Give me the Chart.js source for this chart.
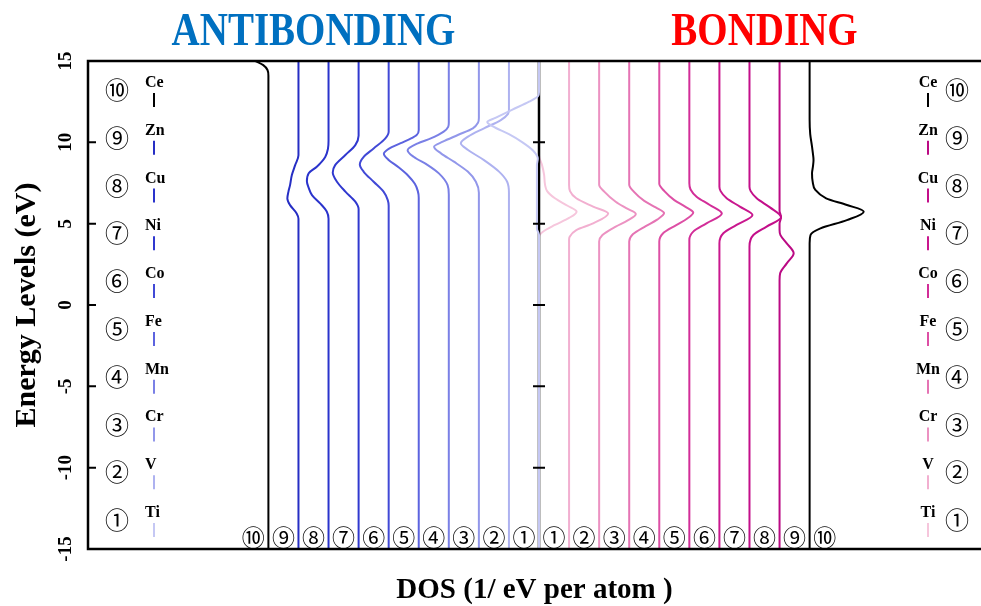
<!DOCTYPE html>
<html lang="en">
<head>
<meta charset="UTF-8" />
<title>DOS - antibonding / bonding</title>
<script src="https://cdn.jsdelivr.net/npm/chart.js"></script>
<style>
  html, body { margin: 0; padding: 0; background: #fff; overflow: hidden; }
  #grafico { display: block; }
</style>
</head>
<body>
<canvas id="grafico" width="981" height="606"></canvas>

<script>
  // elements, from Ti (1) to Ce (10)
  var elements = ["Ti", "V", "Cr", "Mn", "Fe", "Co", "Ni", "Cu", "Zn", "Ce"];
  var circled = ["①", "②", "③", "④", "⑤", "⑥", "⑦", "⑧", "⑨", "⑩"];
  // stacking offset of each curve (DOS units)
  var offsets = [0, 1, 2, 3, 4, 5, 6, 7, 8, 9];
  var energyTicks = [-15, -10, -5, 0, 5, 10, 15];

  // [energy (eV), DOS]  antibonding side (drawn to the left)
  var antiTi = [[-15, 0], [4.3, 0], [4.7, 0.07], [8.6, 0.07], [9.0, 0.04], [9.5, 0.2], [10.0, 0.55], [10.5, 1.0], [11.0, 1.55], [11.25, 1.72], [11.5, 1.45], [12.0, 0.9], [12.5, 0.33], [12.85, 0.03], [13.1, 0], [15, 0]];
  var antiV = [[-15, 0], [6.9, 0], [7.58, 0.06], [8.2, 0.33], [8.91, 0.83], [9.53, 1.36], [9.94, 1.6], [10.35, 1.36], [10.86, 0.83], [11.37, 0.27], [11.75, 0.03], [12.0, 0], [15, 0]];
  var antiCr = [[-15, 0], [6.9, 0], [7.58, 0.1], [8.2, 0.37], [8.81, 0.83], [9.32, 1.26], [9.73, 1.49], [10.04, 1.2], [10.45, 0.7], [10.86, 0.2], [11.2, 0.03], [11.5, 0], [15, 0]];
  var antiMn = [[-15, 0], [6.8, 0], [7.37, 0.04], [8.09, 0.33], [8.6, 0.7], [9.11, 1.17], [9.52, 1.37], [9.94, 1.03], [10.24, 0.6], [10.66, 0.17], [10.95, 0.02], [11.2, 0], [15, 0]];
  var antiFe = [[-15, 0], [6.6, 0], [7.0, 0.03], [7.45, 0.13], [7.95, 0.35], [8.45, 0.66], [8.95, 1.02], [9.3, 1.16], [9.6, 1.0], [9.95, 0.6], [10.2, 0.3], [10.45, 0.07], [10.75, 0], [15, 0]];
  var antiCo = [[-15, 0], [6.1, 0], [6.45, 0.03], [6.97, 0.17], [7.58, 0.5], [8.19, 0.83], [8.64, 0.96], [9.11, 0.83], [9.62, 0.5], [10.24, 0.11], [10.65, 0], [15, 0]];
  var antiNi = [[-15, 0], [5.9, 0], [6.35, 0.11], [6.97, 0.44], [7.58, 0.72], [8.15, 0.86], [8.6, 0.78], [9.22, 0.44], [9.83, 0.11], [10.4, 0], [15, 0]];
  var antiCu = [[-15, 0], [5.3, 0], [5.75, 0.06], [6.25, 0.28], [6.75, 0.55], [7.2, 0.66], [7.6, 0.72], [8.1, 0.66], [8.5, 0.39], [9.1, 0.11], [9.6, 0.02], [10.1, 0], [15, 0]];
  var antiZn = [[-15, 0], [5.3, 0], [5.63, 0.06], [6.14, 0.28], [6.55, 0.37], [7.0, 0.33], [7.37, 0.28], [7.99, 0.22], [8.6, 0.11], [9.2, 0], [15, 0]];
  var antiCe = [[-15, 0], [14.1, 0], [14.45, 0.03], [14.75, 0.17], [15, 0.43]];

  // bonding side (drawn to the right)
  var bondTi = [[-15, 0], [4.2, 0], [4.5, 0.13], [4.92, 0.53], [5.35, 1.0], [5.74, 1.25], [6.1, 0.95], [6.56, 0.53], [7.0, 0.27], [7.4, 0.2], [8.0, 0.17], [8.6, 0.1], [9.2, 0], [15, 0]];
  var bondV = [[-15, 0], [4.0, 0], [4.2, 0.02], [4.61, 0.24], [5.02, 0.8], [5.63, 1.3], [6.05, 0.8], [6.56, 0.24], [7.0, 0.03], [7.37, 0], [15, 0]];
  var bondCr = [[-15, 0], [3.9, 0], [4.3, 0.11], [4.82, 0.55], [5.2, 0.95], [5.6, 1.22], [5.95, 0.9], [6.35, 0.55], [6.97, 0.17], [7.4, 0], [15, 0]];
  var bondMn = [[-15, 0], [3.9, 0], [4.35, 0.12], [4.85, 0.55], [5.25, 0.93], [5.65, 1.16], [6.0, 0.88], [6.4, 0.5], [6.95, 0.16], [7.4, 0], [15, 0]];
  var bondFe = [[-15, 0], [3.9, 0], [4.4, 0.12], [4.9, 0.55], [5.3, 0.92], [5.68, 1.13], [6.05, 0.86], [6.45, 0.5], [7.0, 0.17], [7.45, 0], [15, 0]];
  var bondCo = [[-15, 0], [4.0, 0], [4.51, 0.13], [5.02, 0.57], [5.63, 1.08], [6.15, 0.68], [6.66, 0.24], [7.1, 0.04], [7.48, 0], [15, 0]];
  var bondNi = [[-15, 0], [3.8, 0], [4.41, 0.13], [4.92, 0.57], [5.53, 1.1], [6.05, 0.68], [6.56, 0.24], [7.0, 0.04], [7.27, 0], [15, 0]];
  var bondCu = [[-15, 0], [3.6, 0], [4.3, 0.13], [4.82, 0.57], [5.39, 1.05], [6.0, 0.68], [6.56, 0.24], [7.0, 0.04], [7.27, 0], [15, 0]];
  var bondZn = [[-15, 0], [1.5, 0], [1.95, 0.02], [2.56, 0.24], [3.18, 0.47], [3.79, 0.24], [4.3, 0.03], [4.61, 0], [5.0, 0], [5.4, 0.05], [5.8, 0], [15, 0]];
  var bondCe = [[-15, 0], [3.8, 0], [4.3, 0.03], [4.71, 0.36], [5.22, 1.24], [5.74, 1.8], [6.15, 1.24], [6.56, 0.55], [7.07, 0.19], [7.6, 0.1], [8.1, 0.08], [8.5, 0.11], [8.92, 0.13], [9.3, 0.11], [9.74, 0.08], [10.5, 0.02], [11.4, 0], [15, 0]];

  var antibonding = [antiTi, antiV, antiCr, antiMn, antiFe, antiCo, antiNi, antiCu, antiZn, antiCe];
  var bonding = [bondTi, bondV, bondCr, bondMn, bondFe, bondCo, bondNi, bondCu, bondZn, bondCe];

  var blues = ["#c5c8f4", "#aeb2f0", "#9297ea", "#7a80e6", "#5c63df", "#4149d6", "#3038cf", "#2a33cc", "#262ec4", "#000000"];
  var pinks = ["#f6c6dc", "#f2afd0", "#ec92c2", "#e574b4", "#dd4fa5", "#d22d98", "#c9178e", "#c30f8a", "#bb0a84", "#000000"];

  var serif = "'Liberation Serif', 'Times New Roman', serif";
  var circleFont = "'Noto Sans CJK JP', 'DejaVu Sans'";

  function curve(points, base, dir, color) {
    return {
      data: points.map(function (p) { return { x: base + dir * p[1], y: p[0] }; }),
      borderColor: color,
      borderWidth: 2,
      pointRadius: 0,
      cubicInterpolationMode: "monotone",
      fill: false
    };
  }

  var datasets = [];
  for (var i = 0; i < 10; i++) datasets.push(curve(antibonding[i], -offsets[i], -1, blues[i]));
  for (var j = 0; j < 10; j++) datasets.push(curve(bonding[j], offsets[j], 1, pinks[j]));

  function heading(ctx, text, x, color) {
    ctx.save();
    ctx.fillStyle = color;
    ctx.font = "bold 39px " + serif;
    ctx.textAlign = "center";
    ctx.textBaseline = "alphabetic";
    ctx.translate(x, 45);
    ctx.scale(1, 1.2);
    ctx.fillText(text, 0, 0);
    ctx.restore();
  }

  var frame = {
    id: "frame",
    // centre line goes over the bonding curves, under the antibonding ones
    afterDatasetDraw: function (chart, args) {
      if (args.index !== 10) return;
      var ctx = chart.ctx, a = chart.chartArea;
      var x0 = chart.scales.x.getPixelForValue(0);
      ctx.save();
      ctx.strokeStyle = "#000";
      ctx.lineWidth = 2.5;
      ctx.beginPath();
      ctx.moveTo(x0, a.top);
      ctx.lineTo(x0, a.bottom);
      ctx.stroke();
      ctx.restore();
    },
    afterDraw: function (chart) {
      var ctx = chart.ctx, a = chart.chartArea;
      var xs = chart.scales.x, ys = chart.scales.y;
      var x0 = xs.getPixelForValue(0);
      ctx.save();
      ctx.strokeStyle = "#000";
      ctx.lineWidth = 2.5;
      ctx.beginPath();
      ctx.moveTo(a.right, a.top);
      ctx.lineTo(a.left, a.top);
      ctx.lineTo(a.left, a.bottom);
      ctx.lineTo(a.right, a.bottom);
      ctx.stroke();

      ctx.lineWidth = 2;
      ys.ticks.forEach(function (t) {
        if (t.value <= ys.min || t.value >= ys.max) return;
        var y = ys.getPixelForValue(t.value);
        ctx.beginPath();
        ctx.moveTo(a.left, y); ctx.lineTo(a.left + 8, y);
        ctx.moveTo(x0 - 6, y); ctx.lineTo(x0 + 6, y);
        ctx.stroke();
      });

      // element keys on both sides
      var slot = (a.bottom - a.top - 58) / 9;
      var rightEdge = chart.width;
      for (var k = 0; k < 10; k++) {
        var cy = a.bottom - 29 - k * slot;
        ctx.fillStyle = "#000";
        ctx.font = "24px " + circleFont;
        ctx.textAlign = "center";
        ctx.textBaseline = "middle";
        ctx.fillText(circled[k], a.left + 29, cy);
        ctx.fillText(circled[k], rightEdge - 24, cy);

        ctx.font = "bold 16px " + serif;
        ctx.textBaseline = "alphabetic";
        ctx.textAlign = "left";
        ctx.fillText(elements[k], a.left + 57, cy - 3);
        ctx.textAlign = "center";
        ctx.fillText(elements[k], rightEdge - 53, cy - 3);

        ctx.lineWidth = 2;
        ctx.strokeStyle = blues[k];
        ctx.beginPath();
        ctx.moveTo(a.left + 66, cy + 3); ctx.lineTo(a.left + 66, cy + 17);
        ctx.stroke();
        ctx.strokeStyle = pinks[k];
        ctx.beginPath();
        ctx.moveTo(rightEdge - 53, cy + 3); ctx.lineTo(rightEdge - 53, cy + 17);
        ctx.stroke();

        // numbers along the bottom, between the curves
        ctx.fillStyle = "#000";
        ctx.font = "23px " + circleFont;
        ctx.textBaseline = "middle";
        ctx.fillText(circled[k], xs.getPixelForValue(-offsets[k] - 0.5), a.bottom - 12);
        ctx.fillText(circled[k], xs.getPixelForValue(offsets[k] + 0.5), a.bottom - 12);
      }
      ctx.restore();

      heading(ctx, "ANTIBONDING", xs.getPixelForValue(-7.5), "#0070c0");
      heading(ctx, "BONDING", xs.getPixelForValue(7.5), "#ff0000");
    }
  };

  new Chart(document.getElementById("grafico"), {
    type: "line",
    data: { datasets: datasets },
    plugins: [frame],
    options: {
      indexAxis: "y",
      responsive: false,
      animation: false,
      devicePixelRatio: 1,
      layout: { padding: { top: 61, left: 0, right: 0, bottom: 0 } },
      plugins: { legend: { display: false }, tooltip: { enabled: false } },
      scales: {
        x: {
          type: "linear",
          min: -15,
          max: 14.7,
          grid: { display: false, drawTicks: false },
          border: { display: false },
          ticks: { display: false },
          title: {
            display: true,
            text: "DOS (1/ eV per atom )",
            color: "#000",
            font: { family: serif, size: 29, weight: "bold", lineHeight: 1 },
            padding: { top: 0, bottom: 1 }
          },
          afterFit: function (scale) { scale.height = 57; }
        },
        y: {
          type: "linear",
          min: -15,
          max: 15,
          afterBuildTicks: function (scale) {
            scale.ticks = energyTicks.map(function (v) { return { value: v }; });
          },
          grid: { display: false, drawTicks: false },
          border: { display: false },
          ticks: {
            color: "#000",
            font: { family: serif, size: 19, weight: "bold" },
            minRotation: 90,
            maxRotation: 90,
            crossAlign: "center",
            padding: 9
          },
          title: {
            display: true,
            text: "Energy Levels (eV)",
            color: "#000",
            font: { family: serif, size: 30, weight: "bold", lineHeight: 1 },
            padding: { top: 12, bottom: 0 }
          },
          afterFit: function (scale) { scale.width = 88; }
        }
      }
    }
  });
</script>
</body>
</html>
